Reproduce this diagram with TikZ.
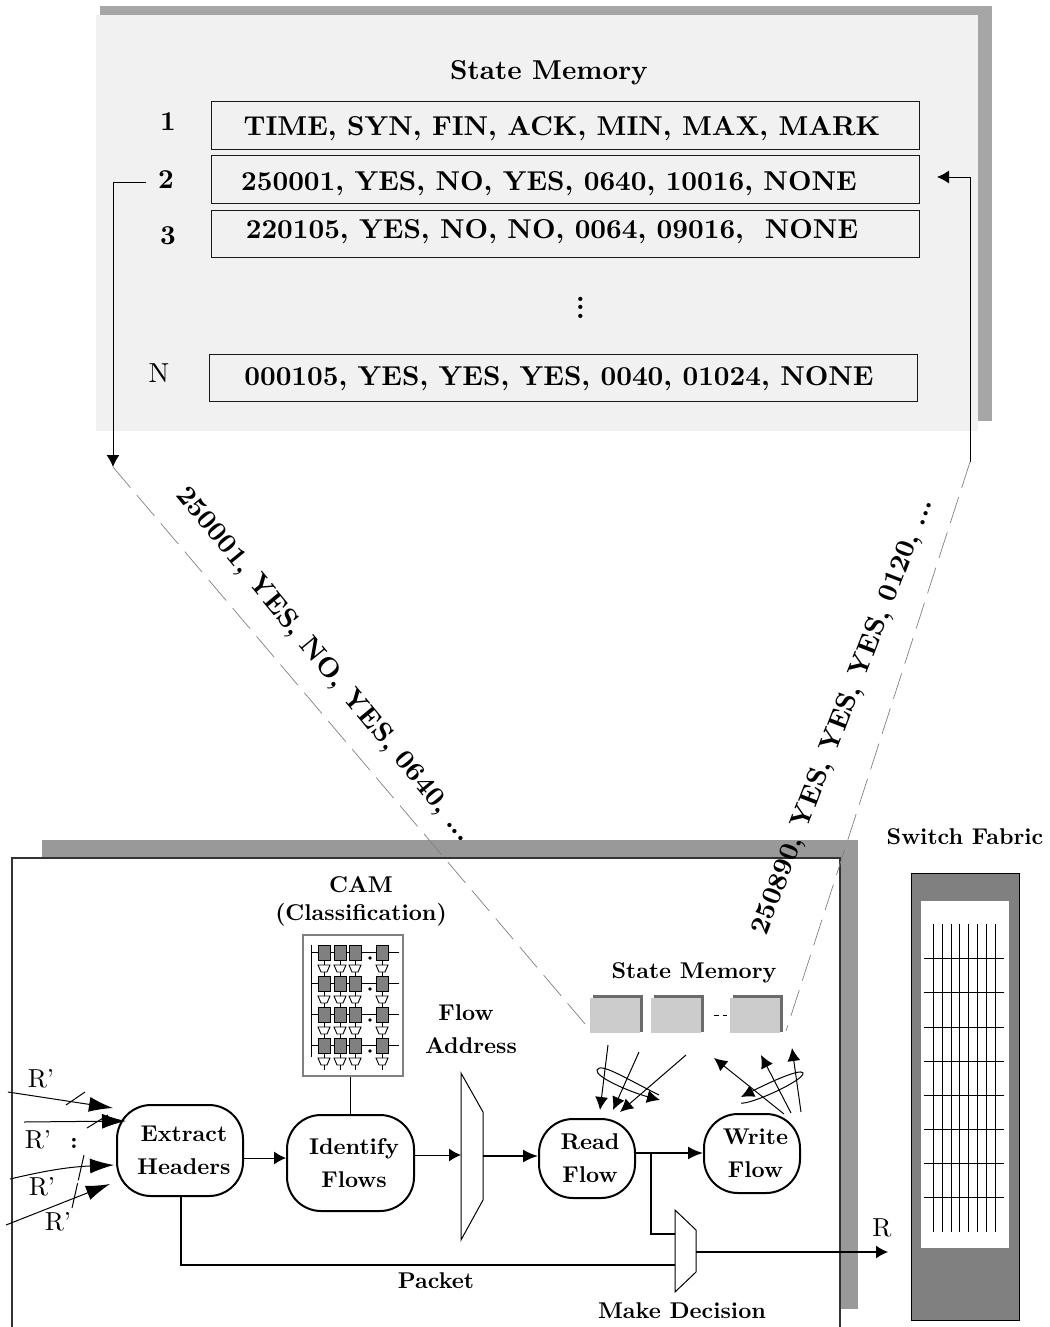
\documentclass[tikz,border=0pt]{standalone}
\usepackage{fontspec}
\setmainfont{lmroman10-regular}[Extension=.otf,BoldFont=lmroman10-bold]
\usetikzlibrary{arrows.meta,positioning,calc,shapes.geometric}
\definecolor{fshadow}{gray}{0.65}
\definecolor{fpanel}{gray}{0.945}
\definecolor{fshadowb}{gray}{0.6}
\definecolor{fcell}{gray}{0.8}
\definecolor{fcellb}{gray}{0.42}
\definecolor{ffabric}{gray}{0.5}
\tikzset{
  bigbf/.style   = {font=\fontsize{27.3}{30}\selectfont\bfseries, inner sep=0pt},
  midbf/.style   = {font=\fontsize{22.8}{33}\selectfont\bfseries, inner sep=0pt, align=center},
  plain/.style   = {font=\fontsize{26}{30}\selectfont, inner sep=0pt},
  rowbox/.style  = {draw=black!90, line width=1pt, inner sep=0pt, rectangle},
  flowbox/.style = {draw, line width=2pt, rectangle, rounded corners=34pt, inner sep=0pt,
                    align=center, font=\fontsize{22.8}{33}\selectfont\bfseries},
  sig/.style     = {-{Latex[length=12pt,width=13pt]}, line width=1pt},
  bigsig/.style  = {-{Latex[length=13pt,width=13pt]}, line width=1pt},
  hugesig/.style = {-{Latex[length=24pt,width=15pt]}, line width=1pt},
  thicksig/.style= {-{Latex[length=15pt,width=13pt]}, line width=2pt},
  link/.style    = {draw=gray, line width=0.7pt, dash pattern=on 27pt off 10pt},
  wire/.style    = {line width=1.1pt},
}
\begin{document}
\begin{tikzpicture}[x=1pt,y=-1pt]
\useasboundingbox (0,0) rectangle (1049,1327);
% upper state memory
\fill[fshadow] (100,6) rectangle (992,421);
\fill[fpanel] (96,15) rectangle (978,431);
\node[bigbf] (title) at (549,73) {State Memory};
\foreach \name/\xa/\ya/\xb/\yb in {rowa/211/102/919/149, rowb/211/155/919/203,
    rowc/211/210/919/257, rown/209/354/917/401}
  \node[rowbox,minimum width=\xb pt-\xa pt,minimum height=\yb pt-\ya pt] (\name) at ({(\xa+\xb)/2},{(\ya+\yb)/2}) {};
\node[bigbf] (texta) at (562,129) {TIME, SYN, FIN, ACK, MIN, MAX, MARK};
\node[bigbf] (textb) at (549,184) {250001, YES, NO, YES, 0640, 10016, NONE};
\node[bigbf] (textc) at (552,232) {220105, YES, NO, NO, 0064, 09016,\ \ NONE};
\node[bigbf] (textn) at (559,379) {000105, YES, YES, YES, 0040, 01024, NONE};
\node[bigbf] (numa) at (168,122) {1};
\node[bigbf] (numb) at (166,180) {2};
\node[bigbf] (numc) at (168,236) {3};
\node[plain,font=\fontsize{27.5}{30}\selectfont] (numn) at (159,373) {N};
\node[bigbf,align=center,font=\fontsize{27}{8.6}\selectfont\bfseries] (vdots) at (580.5,307.5) {.\\.\\.};
\coordinate (outl) at (113,467);
\coordinate (inr) at (970,462);
\coordinate (numbw) at (146,182);
\coordinate (rowbe) at (937,177);
\draw[sig] (numbw) -| (outl);
\draw[sig] (inr) |- (rowbe);
% lower line card
\fill[fshadowb] (42,840) rectangle (858,1309);
\draw[fill=white,line width=1.5pt,draw=black!80] (12,1330) -- (12,858) -- (840,858) -- (840,1330);
\coordinate (cella) at (591,1031);
\coordinate (cellc) at (786,1031);
\draw[link] (outl) -- (cella);
\draw[link] (inr) -- (cellc);
\node[bigbf,rotate=-50.5] (outtext) at (324,665) {250001, YES, NO, YES, 0640, ...};
\node[bigbf,rotate=69] (intext) at (843,717) {250890, YES, YES, YES, 0120, ...};
% cam
\node[midbf,align=center,font=\fontsize{22.8}{28}\selectfont\bfseries] (camlabel) at (361,901) {CAM\\(Classification)};
\node[draw=gray,line width=1.5pt,fill=white,minimum width=100pt,minimum height=141pt,inner sep=0pt] (cam) at (353,1005.5) {};
\draw[line width=1pt] (311,945) -- (311,1057);
\foreach \ya in {945,976,1007,1038} {
  \draw[line width=1pt] (311,\ya+7.5) -- (399,\ya+7.5);
  \fill (370,\ya+13) circle (1.8pt);
  \foreach \xa in {318,334,349,376} {
    \draw[fill=gray,line width=1pt] (\xa,\ya) rectangle +(12,15);
    \draw[line width=1pt] (\xa+6,\ya+15) -- +(0,5);
    \draw[fill=white,line width=0.9pt] (\xa,\ya+20) -- +(12,0) -- +(9,7) -- +(3,7) -- cycle;
    \draw[line width=1pt] (\xa+6,\ya+27) -- +(0,5);
  }
}
% flow stages
\node[flowbox,minimum width=126pt,minimum height=91pt] (extract) at (180,1150.5) {\hspace*{8pt}Extract\\\hspace*{8pt}Headers};
\node[flowbox,minimum width=127pt,minimum height=96pt] (identify) at (350.5,1163) {\hspace*{7pt}Identify\\\hspace*{7pt}Flows};
\node[flowbox,minimum width=96pt,minimum height=79pt] (read) at (587,1158.5) {\hspace*{6pt}Read\\\hspace*{6pt}Flow};
\node[flowbox,minimum width=96pt,minimum height=79pt] (write) at (752,1153.5) {\hspace*{7pt}Write\\\hspace*{7pt}Flow};
\node[midbf] (flowa) at (466,1013) {Flow};
\node[midbf] (flowb) at (471,1046) {Address};
\coordinate (muxaw) at (461,1155);
\coordinate (muxae) at (483,1156);
\draw[line width=1pt] (461,1073) -- (483,1112) -- (483,1200) -- (461,1240) -- cycle;
\draw[line width=1pt] (675,1210) -- (696,1230) -- (696,1272) -- (675,1292) -- cycle;
\coordinate (muxbu) at (675,1234);
\coordinate (muxbd) at (675,1265);
\coordinate (muxbe) at (696,1252);
\coordinate (rcv) at (888,1252);
\draw[wire] (identify.north |- cam.south) -- (identify.north);
\draw[sig] (extract.east |- 0,1158) -- (identify.west |- 0,1158);
\draw[sig] (identify.east |- muxaw) -- (muxaw);
\draw[thicksig] (muxae) -- (read.west |- muxae);
\draw[thicksig] (read.east |- 0,1153) -- (write.west |- 0,1153);
\draw[wire,line width=1.4pt] (181,1196) |- (muxbd);
\draw[wire] (651,1153) |- (muxbu);
\draw[sig,line width=1.1pt] (muxbe) -- (rcv);
\node[plain] (rlabel) at (882,1228) {R};
\node[midbf] (packet) at (436,1281) {Packet};
\node[midbf] (decide) at (682,1311) {Make Decision};
% state memory cells
\node[midbf] (smlabel) at (694,973) {State Memory};
\foreach \xa in {590,651,730} {
  \fill[fcellb] (\xa+3,995) rectangle +(50,37);
  \fill[fcell] (\xa,998) rectangle +(50,35);
}
\draw[line width=1pt,dash pattern=on 5pt off 4pt] (714,1015) -- (727,1015);
\draw[bigsig] (608,1045) -- (600,1110);
\draw[bigsig] (639,1052) -- (613,1110);
\draw[bigsig] (686,1055) -- (620,1112);
\draw[bigsig] (659,1095) .. controls (625,1078) and (600,1062) .. (597,1070) .. controls (595,1077) and (630,1092) .. (660,1100);
\draw[bigsig] (784,1114) -- (714,1058);
\draw[bigsig] (791,1113) -- (761,1055);
\draw[bigsig] (801,1112) -- (792,1048);
\draw[bigsig] (741,1103) .. controls (750,1105) and (805,1080) .. (803,1073) .. controls (801,1068) and (770,1082) .. (741,1097);
% input ports
\foreach \name/\xa/\ya in {ina/8/1092, inb/24/1122, inc/10/1179, ind/6/1225}
  \coordinate (\name) at (\xa,\ya);
\draw[hugesig] (ina) -- (113,1108);
\draw[hugesig] (inb) -- (126,1121);
\draw[hugesig] (inc) .. controls (40,1172) and (65,1167) .. (114,1165);
\draw[hugesig] (ind) -- (110,1184);
\draw[line width=1pt] (66,1105) -- (85,1092);
\draw[line width=1pt] (87,1128) -- (108,1115);
\draw[line width=1pt,dash pattern=on 26pt off 3pt] (84,1155) -- (72,1208);
\node[plain] (ra) at (41,1079) {R'};
\node[plain] (rb) at (38,1140) {R'};
\node[plain] (rc) at (42,1187) {R'};
\node[plain] (rd) at (58,1222) {R'};
\node[midbf] (colon) at (74,1143) {:};
% switch fabric
\node[midbf] (fablabel) at (965,837) {Switch Fabric};
\draw[fill=ffabric,line width=1pt] (911,873) rectangle (1019,1320);
\fill[white] (921,901) rectangle (1009,1248);
\foreach \xa in {933,942,951,959,968,977,986,995}
  \draw[line width=1pt] (\xa,924) -- (\xa,1232);
\foreach \ya in {958,992,1027,1061,1095,1129,1163,1197}
  \draw[line width=1pt] (924,\ya) -- (1004,\ya);
\end{tikzpicture}
\end{document}
